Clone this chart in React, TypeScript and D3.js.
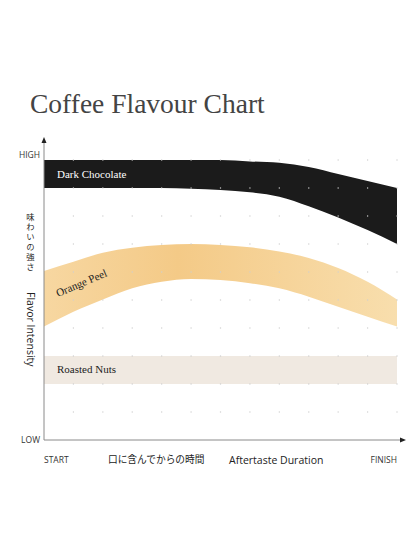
import React from 'react';
import * as d3 from 'd3';

// time steps along the aftertaste axis (START .. FINISH)
const timeSteps = [0, 1, 2, 3, 4, 5, 6, 7, 8, 9, 10, 11, 12];

// flavour bands: upper / lower intensity at each step (0 = LOW, 10 = HIGH)
const darkTop = [10, 10, 10, 10, 10, 10, 10, 9.95, 9.9, 9.75, 9.5, 9.25, 9.0];
const darkBottom = [9, 9, 9, 9, 9, 8.97, 8.93, 8.85, 8.69, 8.35, 7.95, 7.5, 7.0];
const orangeTop = [6.04, 6.37, 6.69, 6.87, 6.96, 7.0, 6.96, 6.88, 6.73, 6.5, 6.14, 5.65, 5.02];
const orangeBottom = [4.05, 4.58, 5.02, 5.42, 5.65, 5.75, 5.71, 5.6, 5.42, 5.12, 4.76, 4.4, 4.05];
const nutsTop = [3, 3, 3, 3, 3, 3, 3, 3, 3, 3, 3, 3, 3];
const nutsBottom = [2, 2, 2, 2, 2, 2, 2, 2, 2, 2, 2, 2, 2];

const gridLevels = [1, 2, 3, 4, 5, 6, 7, 8, 9, 10];

const W = 416;
const H = 554;

const App: React.FC = () => {
  const x = d3.scaleLinear().domain([0, 12]).range([44, 397]);
  const y = d3.scaleLinear().domain([0, 10]).range([440, 160]);

  const band = (top: number[], bottom: number[]) =>
    d3
      .area<number>()
      .x((d) => x(d))
      .y0((d, i) => y(bottom[i]))
      .y1((d, i) => y(top[i]))
      .curve(d3.curveMonotoneX)(timeSteps) || '';

  const sans = "'Open Sans', 'DejaVu Sans', sans-serif";
  const serif = "'Liberation Serif', 'DejaVu Serif', serif";
  const cjk = "'Noto Sans CJK JP', sans-serif";

  return (
    <svg
      width={W}
      height={H}
      style={{ position: 'absolute', left: 0, top: 0, background: '#fff' }}
    >
      <defs>
        <linearGradient id="orangeGrad" x1="0" x2="1" y1="0" y2="0">
          <stop offset="0%" stopColor="#f7d7a1" />
          <stop offset="38%" stopColor="#f4ca87" />
          <stop offset="100%" stopColor="#f8dead" />
        </linearGradient>
      </defs>

      {/* Title */}
      <text x={30} y={113} fontFamily={serif} fontSize={27.5} fill="#444">
        Coffee Flavour Chart
      </text>

      {/* Bands */}
      <path d={band(darkTop, darkBottom)} fill="#1b1b1b" />
      <path d={band(orangeTop, orangeBottom)} fill="url(#orangeGrad)" />
      <path d={band(nutsTop, nutsBottom)} fill="#f0e9e1" />

      {/* Dotted grid */}
      {gridLevels.map((lv) =>
        timeSteps.slice(1).map((t) => (
          <rect
            key={`${lv}-${t}`}
            x={x(t) - 0.6}
            y={y(lv) - 0.6}
            width={1.2}
            height={1.2}
            fill="#cfcfcf"
          />
        ))
      )}

      {/* Band labels */}
      <text x={57} y={178} fontFamily={serif} fontSize={11} fill="#fff">
        Dark Chocolate
      </text>
      <text
        transform={`translate(58,297) rotate(-23)`}
        fontFamily={serif}
        fontSize={11}
        fill="#222"
      >
        Orange Peel
      </text>
      <text x={57} y={373} fontFamily={serif} fontSize={11} fill="#222">
        Roasted Nuts
      </text>

      {/* Axes */}
      <line x1={x(0)} x2={x(0)} y1={y(0)} y2={142} stroke="#8a8a8a" strokeWidth={1} />
      <path d={`M${x(0)},137 L${x(0) - 2.5},143 L${x(0) + 2.5},143 Z`} fill="#222" />
      <line x1={x(0)} x2={401} y1={y(0)} y2={y(0)} stroke="#8a8a8a" strokeWidth={1} />
      <path d={`M406,${y(0)} L400,${y(0) - 2.5} L400,${y(0) + 2.5} Z`} fill="#222" />

      {/* Axis end labels */}
      <text x={40} y={y(10) - 2} textAnchor="end" fontFamily={sans} fontSize={8.5} fill="#333">
        HIGH
      </text>
      <text x={40} y={y(0) + 2.5} textAnchor="end" fontFamily={sans} fontSize={8.5} fill="#333">
        LOW
      </text>
      <text x={x(0)} y={463} fontFamily={sans} fontSize={8.5} fill="#333">
        START
      </text>
      <text x={x(12)} y={463} textAnchor="end" fontFamily={sans} fontSize={8.5} fill="#333">
        FINISH
      </text>

      {/* Axis titles */}
      <text x={108} y={463} fontFamily={cjk} fontSize={9.7} fill="#222">
        口に含んでからの時間
      </text>
      <text x={229} y={463.5} fontFamily={sans} fontSize={10.5} fill="#222">
        Aftertaste Duration
      </text>
      {/* vertical Japanese title */}
      <text
        x={30.5}
        y={213}
        fontFamily={cjk}
        fontSize={8.3}
        fill="#222"
        style={{ writingMode: 'vertical-rl', textOrientation: 'upright', letterSpacing: '1.6px' } as any}
      >
        味わいの強さ
      </text>
      <text
        transform="translate(27,292) rotate(90)"
        fontFamily={sans}
        fontSize={10.5}
        fill="#222"
      >
        Flavor Intensity
      </text>
    </svg>
  );
};

export default App;
